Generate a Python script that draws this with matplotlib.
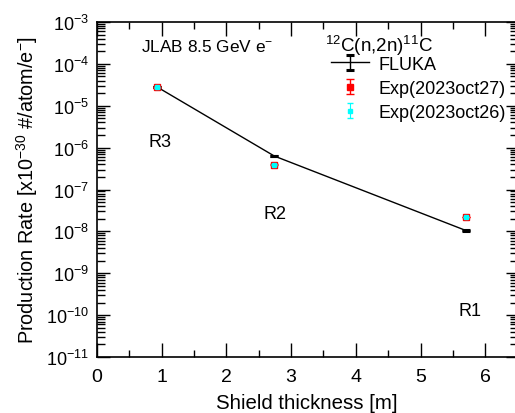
import numpy as np
import matplotlib
matplotlib.use('Agg')
import matplotlib.pyplot as plt
from matplotlib.ticker import FixedLocator, MultipleLocator, NullFormatter
from matplotlib.legend_handler import HandlerErrorbar
from matplotlib.container import ErrorbarContainer

plt.rcParams['font.family'] = ['Liberation Sans', 'DejaVu Sans']
plt.rcParams['mathtext.fontset'] = 'custom'
plt.rcParams['mathtext.rm'] = 'Liberation Sans'
plt.rcParams['mathtext.it'] = 'Liberation Sans:italic'

# shield thickness [m] for the three regions
thick = [0.93, 2.74, 5.70]
fluka = [2.8e-5, 6.3e-7, 1.05e-8]
fluka_err = [0.2e-6, 0.4e-8, 0.07e-9]
exp27 = [2.75e-5, 3.9e-7, 2.2e-8]
exp27_err = [0.05e-5, 0.06e-7, 0.04e-8]
exp26 = [2.75e-5, 3.9e-7, 2.2e-8]
exp26_err = [0.05e-5, 0.06e-7, 0.04e-8]

regions = ['R3', 'R2', 'R1']
region_x = [0.79, 2.58, 5.58]
region_y = [1.4e-6, 2.6e-8, 1.3e-10]

fig = plt.figure(figsize=(5.15, 4.14), dpi=100)
fig.patch.set_facecolor('white')
W, H = 515, 414
ax = fig.add_axes([97 / W, 1 - 358 / H, 420.6 / W, 335 / H])

ax.errorbar(thick, fluka, yerr=fluka_err, fmt='-', color='black', lw=1,
            capsize=3, capthick=2.2, elinewidth=1, label='FLUKA', zorder=3)
ax.errorbar(thick, exp27, yerr=exp27_err, fmt='s', color='red', ms=5,
            mec='red', capsize=3, elinewidth=1, label='Exp(2023oct27)', zorder=4)
ax.errorbar(thick, exp26, yerr=exp26_err, fmt='s', color='cyan', ms=3,
            mec='cyan', capsize=2, elinewidth=0.8, label='Exp(2023oct26)', zorder=5)

for r, rx, ry in zip(regions, region_x, region_y):
    ax.text(rx, ry, r, fontsize=13, va='center', ha='left')
ax.text(0.68, 2.7e-4, 'JLAB 8.5 GeV e$^{-}$', fontsize=12.4, va='center', ha='left')

ax.set_yscale('log')
ax.set_xlim(0, 6.5)
ax.set_ylim(1e-11, 1e-3)
ax.xaxis.set_major_locator(MultipleLocator(1))
ax.xaxis.set_minor_locator(MultipleLocator(0.5))
ax.yaxis.set_major_locator(FixedLocator([10.0 ** e for e in range(-11, -2)]))
ax.yaxis.set_minor_locator(FixedLocator([s * 10.0 ** e for e in range(-11, -3)
                                         for s in range(2, 10)]))
ax.yaxis.set_minor_formatter(NullFormatter())
ax.tick_params(which='both', direction='in', top=True, right=True, width=1)
ax.tick_params(axis='x', which='major', length=10)
ax.tick_params(axis='x', which='minor', length=5)
ax.tick_params(axis='y', which='major', length=9)
ax.tick_params(axis='y', which='minor', length=6)
ax.tick_params(axis='y', labelsize=13, pad=6)
ax.tick_params(axis='x', labelsize=14, pad=8)
for s in ax.spines.values():
    s.set_linewidth(1.2)

ax.set_xlabel('Shield thickness [m]', fontsize=14.7, labelpad=6)
ax.set_ylabel('Production Rate [x10$^{-30}$ #/atom/e$^{-}$]', fontsize=14.3, labelpad=4)

fig.text(325 / W, 1 - 52 / H, '$^{12}$C(n,2n)$^{11}$C', fontsize=13.5,
         ha='left', va='baseline')
leg = ax.legend(loc='upper left', bbox_to_anchor=(318 / W, 1 - 44 / H),
                bbox_transform=fig.transFigure, frameon=False, fontsize=13,
                handlelength=2.1, handletextpad=0.55,
                labelspacing=0.4, borderpad=0.2,
                handler_map={ErrorbarContainer: HandlerErrorbar(xerr_size=0.45, yerr_size=0.42)})

fig.savefig('out.png', dpi=100, facecolor='white')
